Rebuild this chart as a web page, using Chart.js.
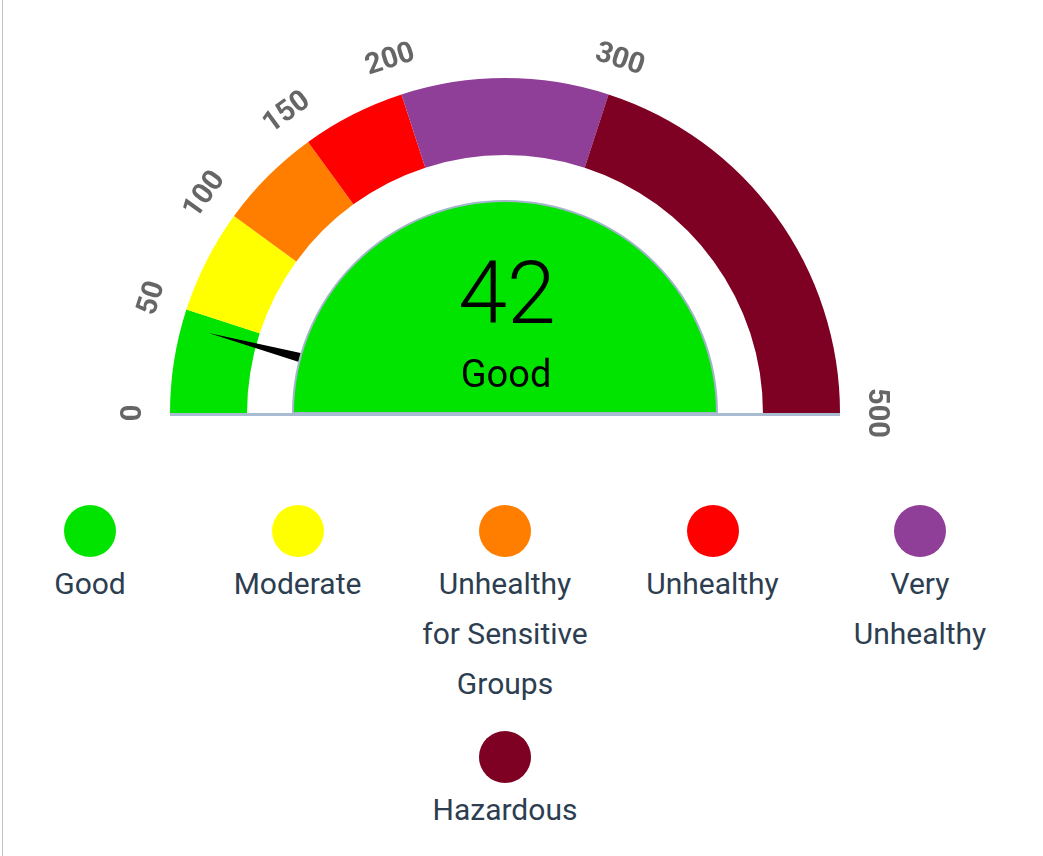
<!DOCTYPE html>
<html>
<head>
<meta charset="utf-8">
<script src="https://cdn.jsdelivr.net/npm/chart.js@4/dist/chart.umd.min.js"></script>
<style>
  html, body { margin: 0; padding: 0; background: #fff; }
  body { width: 1043px; height: 856px; position: relative; overflow: hidden; font-family: Roboto, "Open Sans", sans-serif; }
  #edge { position: absolute; left: 2px; top: 0; width: 1px; height: 856px; background: #c4c4c4; }
  #gauge { position: absolute; left: 0; top: 0; }
  #leyenda { position: absolute; left: -13.75px; top: 505px; width: 1037.5px; display: flex; flex-wrap: wrap; justify-content: center; }
  .item { width: 207.5px; text-align: center; margin-bottom: 22px; }
  .punto { width: 52px; height: 52px; border-radius: 50%; margin: 0 auto 2px; }
  .texto { font-size: 30px; line-height: 50px; color: #2c3e50; white-space: pre-line; }
</style>
</head>
<body>
<div id="edge"></div>
<canvas id="gauge" width="1043" height="460"></canvas>
<div id="leyenda"></div>
<script>
// categorias AQI y sus cortes
const categorias = ['Good', 'Moderate', 'Unhealthy for Sensitive Groups', 'Unhealthy', 'Very Unhealthy', 'Hazardous'];
const etiquetasLeyenda = ['Good', 'Moderate', 'Unhealthy\nfor Sensitive\nGroups', 'Unhealthy', 'Very\nUnhealthy', 'Hazardous'];
const cortes = [0, 50, 100, 150, 200, 300, 500];
const colores = ['#00e400', '#ffff00', '#ff7e00', '#ff0000', '#8f3f97', '#7e0023'];
const valorAQI = 42;

const tramos = cortes.slice(1).map((c, i) => c - cortes[i]);
const idxActual = cortes.findIndex((c, i) => i < cortes.length - 1 && valorAQI >= c && valorAQI < cortes[i + 1]);

const gaugeExtras = {
    id: 'gaugeExtras',
    afterDatasetsDraw(chart) {
        const ctx = chart.ctx;
        const arcos = chart.getDatasetMeta(0).data;
        const cx = arcos[0].x, cy = arcos[0].y;
        const rOut = arcos[0].outerRadius;
        const rIn = 212;

        // circulo interior
        ctx.save();
        ctx.beginPath();
        ctx.arc(cx, cy, rIn, Math.PI, 2 * Math.PI);
        ctx.closePath();
        ctx.fillStyle = colores[idxActual];
        ctx.fill();
        ctx.lineWidth = 2;
        ctx.strokeStyle = '#a3b5ca';
        ctx.stroke();

        // linea base
        ctx.beginPath();
        ctx.moveTo(cx - rOut, cy + 1.5);
        ctx.lineTo(cx + rOut, cy + 1.5);
        ctx.lineWidth = 3;
        ctx.strokeStyle = '#a8bbd0';
        ctx.stroke();

        // aguja
        const arco = arcos[idxActual];
        const frac = (valorAQI - cortes[idxActual]) / tramos[idxActual];
        const ang = arco.startAngle + frac * (arco.endAngle - arco.startAngle);
        const px = Math.cos(ang + Math.PI / 2), py = Math.sin(ang + Math.PI / 2);
        const bx = cx + Math.cos(ang) * (rIn + 1), by = cy + Math.sin(ang) * (rIn + 1);
        ctx.beginPath();
        ctx.moveTo(bx + px * 4.5, by + py * 4.5);
        ctx.lineTo(bx - px * 4.5, by - py * 4.5);
        ctx.lineTo(cx + Math.cos(ang) * 307, cy + Math.sin(ang) * 307);
        ctx.closePath();
        ctx.fillStyle = '#000';
        ctx.fill();

        // texto central
        ctx.fillStyle = '#000';
        ctx.textAlign = 'center';
        ctx.textBaseline = 'alphabetic';
        ctx.font = '300 88px Roboto';
        ctx.fillText(String(valorAQI), cx + 2, cy - 90);
        ctx.font = '400 38px Roboto';
        ctx.fillText(categorias[idxActual], cx + 1, cy - 26);

        // etiquetas de los cortes
        ctx.font = 'bold 29px Roboto';
        ctx.fillStyle = '#666666';
        ctx.textBaseline = 'middle';
        cortes.forEach((c, i) => {
            const a = i < arcos.length ? arcos[i].startAngle : arcos[arcos.length - 1].endAngle;
            const r = rOut + 36;
            ctx.save();
            ctx.translate(cx + Math.cos(a) * r, cy + Math.sin(a) * r);
            ctx.rotate(a + Math.PI / 2);
            ctx.fillText(String(c), 0, 0);
            ctx.restore();
        });
        ctx.restore();
    }
};

new Chart(document.getElementById('gauge').getContext('2d'), {
    type: 'doughnut',
    data: {
        labels: categorias,
        datasets: [{
            data: tramos,
            backgroundColor: colores,
            borderWidth: 0
        }]
    },
    options: {
        responsive: false,
        animation: false,
        rotation: -90,
        circumference: 180,
        cutout: '77%',
        events: [],
        layout: { padding: { left: 170, right: 203, top: 78, bottom: 47 } },
        plugins: {
            legend: { display: false },
            tooltip: { enabled: false }
        }
    },
    plugins: [gaugeExtras]
});

// leyenda en html
const leyenda = document.getElementById('leyenda');
etiquetasLeyenda.forEach((txt, i) => {
    const item = document.createElement('div');
    item.className = 'item';
    item.innerHTML = '<div class="punto" style="background:' + colores[i] + '"></div><div class="texto"></div>';
    item.querySelector('.texto').textContent = txt;
    leyenda.appendChild(item);
});
</script>
</body>
</html>
